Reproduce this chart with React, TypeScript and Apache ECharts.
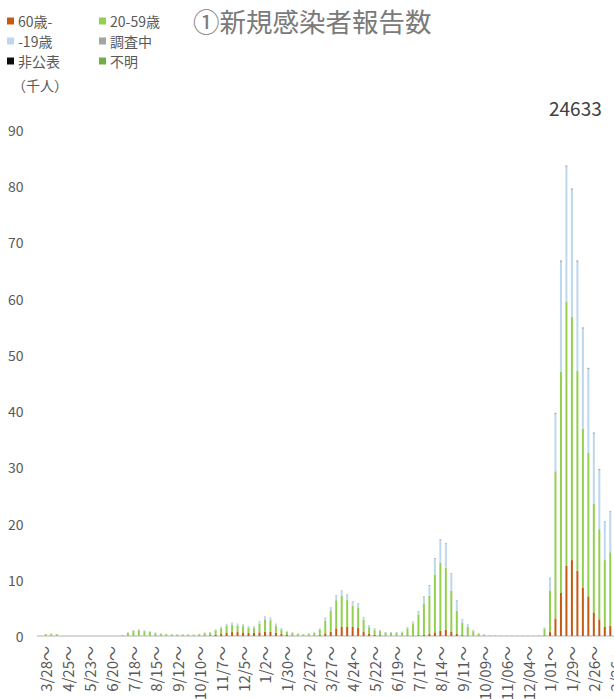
import React, { useEffect, useRef } from "react";
import * as echarts from "echarts";

// Week index 0 = 3/21～ (2020), index 1 = 3/28～, one category per week (values in thousand people)
const tickLabels = [
  "3/28", "4/25", "5/23", "6/20", "7/18", "8/15", "9/12", "10/10", "11/7", "12/5",
  "1/2", "1/30", "2/27", "3/27", "4/24", "5/22", "6/19", "7/17", "8/14", "9/11",
  "10/09", "11/06", "12/04", "1/01", "1/29", "2/26", "3/26",
];
const WEEK_COUNT = 106;
const categories = Array.from({ length: WEEK_COUNT }, (_, i) => "w" + i);

const age60plus = [
  0, 0.02, 0.03, 0.02, 0, 0, 0, 0, 0, 0,
  0, 0, 0, 0, 0, 0, 0.02, 0.04, 0.05, 0.06,
  0.07, 0.06, 0.05, 0.04, 0.04, 0.03, 0.03, 0.03, 0.03, 0.05,
  0.08, 0.12, 0.2, 0.35, 0.55, 0.7, 0.7, 0.65, 0.55, 0.55,
  0.65, 0.75, 0.75, 0.6, 0.35, 0.18, 0.1, 0.07, 0.05, 0.05,
  0.08, 0.15, 0.47, 0.77, 1.36, 1.6, 1.6, 1.6, 1.42, 0.71,
  0.36, 0.24, 0.15, 0.08, 0.07, 0.06, 0.06, 0.1, 0.12, 0.15,
  0.2, 0.35, 0.65, 0.95, 1.13, 0.77, 0.36, 0.15, 0.1, 0.05,
  0.03, 0.02, 0.01, 0.01, 0.01, 0.01, 0.01, 0.01, 0.01, 0.01,
  0.01, 0.01, 0.1, 0.7, 3.1, 7.65, 12.45, 13.5, 11.6, 8.54,
  7.06, 4.2, 2.97, 1.6, 1.8,
];
const age20to59 = [
  0, 0.32, 0.36, 0.32, 0, 0, 0, 0, 0, 0,
  0, 0, 0, 0, 0, 0.18, 0.52, 0.89, 0.98, 0.8,
  0.68, 0.47, 0.35, 0.29, 0.26, 0.23, 0.23, 0.23, 0.2, 0.28,
  0.46, 0.49, 0.81, 1.04, 1.26, 1.31, 1.13, 1.11, 0.91, 0.86,
  1.56, 2.21, 2.06, 1.26, 0.83, 0.53, 0.45, 0.32, 0.24, 0.34,
  0.47, 1.04, 2.2, 3.7, 5.01, 5.57, 4.87, 3.77, 3.65, 2.16,
  1.21, 0.81, 0.72, 0.52, 0.53, 0.54, 0.58, 1.25, 2.0, 3.7,
  5.6, 6.85, 10.3, 12.1, 11.02, 7.31, 4.14, 2.17, 1.57, 0.8,
  0.4, 0.23, 0.13, 0.09, 0.06, 0.04, 0.03, 0.03, 0.03, 0.03,
  0.04, 0.1, 1.2, 7.4, 26.2, 39.35, 46.95, 43.3, 35.6, 28.36,
  25.54, 19.3, 16.03, 11.9, 13.1,
];
const age19under = [
  0, 0.01, 0.01, 0.01, 0, 0, 0, 0, 0, 0,
  0, 0, 0, 0, 0, 0.02, 0.06, 0.12, 0.15, 0.12,
  0.1, 0.07, 0.05, 0.04, 0.04, 0.03, 0.03, 0.03, 0.03, 0.04,
  0.07, 0.08, 0.15, 0.22, 0.3, 0.35, 0.33, 0.3, 0.25, 0.25,
  0.4, 0.5, 0.45, 0.3, 0.18, 0.1, 0.08, 0.06, 0.05, 0.06,
  0.08, 0.15, 0.5, 0.55, 0.85, 0.85, 0.9, 0.75, 0.7, 0.4,
  0.25, 0.2, 0.12, 0.08, 0.08, 0.08, 0.1, 0.2, 0.35, 0.5,
  1.2, 1.75, 2.75, 4.0, 4.2, 3.0, 1.8, 0.65, 0.42, 0.18,
  0.08, 0.04, 0.03, 0.02, 0.01, 0.01, 0.01, 0.01, 0.01, 0.01,
  0.01, 0.03, 0.15, 2.15, 10.15, 19.55, 24.05, 22.55, 19.35, 17.75,
  14.85, 12.45, 10.45, 6.75, 7.15,
];
const underInvestigation = [
  0, 0, 0, 0, 0, 0, 0, 0, 0, 0,
  0, 0, 0, 0, 0, 0, 0.02, 0.02, 0.02, 0.02,
  0.02, 0.02, 0.02, 0.01, 0.01, 0.01, 0.01, 0.01, 0.01, 0.01,
  0.01, 0.01, 0.04, 0.04, 0.04, 0.04, 0.04, 0.04, 0.04, 0.04,
  0.04, 0.04, 0.04, 0.04, 0.04, 0.04, 0.02, 0.02, 0.02, 0.02,
  0.02, 0.02, 0.08, 0.08, 0.08, 0.08, 0.08, 0.08, 0.08, 0.08,
  0.08, 0.08, 0.08, 0.03, 0.03, 0.03, 0.03, 0.05, 0.08, 0.1,
  0.1, 0.12, 0.15, 0.15, 0.15, 0.12, 0.1, 0.08, 0.06, 0.04,
  0.02, 0.01, 0.01, 0, 0, 0, 0, 0, 0, 0,
  0, 0.01, 0.05, 0.15, 0.25, 0.25, 0.25, 0.25, 0.25, 0.25,
  0.25, 0.25, 0.25, 0.15, 0.15,
];
const undisclosed: number[] = [];
const unknownAge: number[] = [];

const seriesNames = ["60歳-", "20-59歳", "-19歳", "調査中", "非公表", "不明"];
const seriesColors = ["#C55A11", "#92D050", "#BDD7EE", "#A5A5A5", "#0D0D0D", "#70AD47"];
const seriesData = [age60plus, age20to59, age19under, underInvestigation, undisclosed, unknownAge];

const FONT = "'Noto Sans CJK JP', 'Noto Sans', sans-serif";

export default function App() {
  const ref = useRef<HTMLDivElement>(null);
  useEffect(() => {
    if (!ref.current) return;
    const chart = echarts.init(ref.current, null, { renderer: "svg" });
    const legendBase = {
      orient: "vertical" as const,
      top: 14,
      padding: 0,
      itemWidth: 7,
      itemHeight: 7,
      itemGap: 6,
      icon: "rect",
      selectedMode: false,
      textStyle: { color: "#595959", fontSize: 14, fontFamily: FONT, padding: [0, 0, 0, -1] },
    };
    chart.setOption({
      animation: false,
      backgroundColor: "#ffffff",
      legend: [
        { ...legendBase, left: 7, data: [seriesNames[0], seriesNames[2], seriesNames[4]] },
        { ...legendBase, left: 99, data: [seriesNames[1], seriesNames[3], seriesNames[5]] },
      ],
      grid: {
        left: 37.5,
        top: 130,
        width: 581,
        height: 506,
        containLabel: false,
        outerBoundsMode: "none",
      },
      xAxis: {
        type: "category",
        data: categories,
        boundaryGap: true,
        axisLine: { show: true, lineStyle: { color: "#D9D9D9", width: 2 } },
        axisTick: { show: false },
        splitLine: { show: false },
        axisLabel: {
          interval: (idx: number) => (idx - 1) % 4 === 0,
          rotate: 90,
          margin: 10,
          color: "#595959",
          fontSize: 15,
          fontFamily: FONT,
          formatter: (_v: string, idx: number) => {
            const k = (idx - 1) / 4;
            return tickLabels[k] !== undefined ? tickLabels[k] + "～" : "";
          },
        },
      },
      yAxis: {
        type: "value",
        min: 0,
        max: 90,
        interval: 10,
        axisLine: { show: false },
        axisTick: { show: false },
        splitLine: { show: false },
        axisLabel: { color: "#595959", fontSize: 14, fontFamily: FONT, margin: 14 },
      },
      series: seriesNames.map((name, k) => ({
        name,
        type: "bar",
        stack: "total",
        barWidth: 2,
        data: seriesData[k],
        itemStyle: { color: seriesColors[k] },
        emphasis: { disabled: true },
      })),
      graphic: [
        {
          type: "text",
          left: 193,
          top: 7,
          style: { text: "①新規感染者報告数", fill: "#7A7A7A", fontSize: 26.5, fontFamily: FONT },
        },
        {
          type: "text",
          left: 12,
          top: 78,
          style: { text: "（千人）", fill: "#595959", fontSize: 14, fontFamily: FONT },
        },
        {
          type: "text",
          left: 549,
          top: 98,
          style: { text: "24633", fill: "#404040", fontSize: 19, fontFamily: FONT },
        },
      ],
    });
    return () => chart.dispose();
  }, []);
  return (
    <div style={{ position: "fixed", left: 0, top: 0, width: 614, height: 699, overflow: "hidden" }}>
      <div ref={ref} style={{ position: "absolute", left: 0, top: 0, width: 640, height: 699 }} />
    </div>
  );
}
